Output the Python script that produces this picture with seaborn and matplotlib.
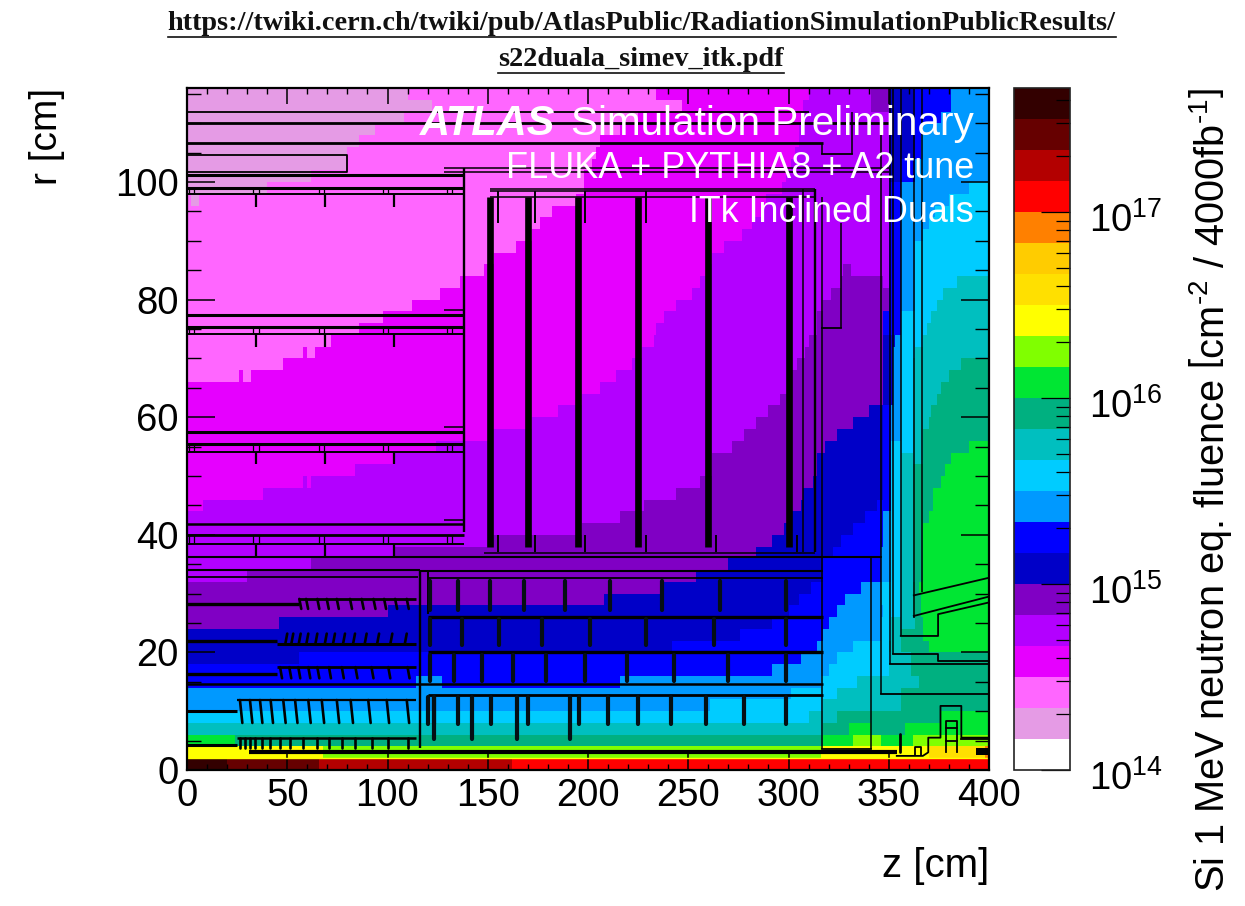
import numpy as np
import matplotlib
matplotlib.use("Agg")
import matplotlib.pyplot as plt
from matplotlib.colors import ListedColormap, LogNorm
from matplotlib.lines import Line2D
from matplotlib.transforms import ScaledTranslation
from matplotlib.ticker import LogLocator, LogFormatterMathtext, MultipleLocator, NullFormatter
import seaborn as sns

plt.rcParams['font.family'] = ['Liberation Sans', 'DejaVu Sans']
plt.rcParams['mathtext.fontset'] = 'custom'
plt.rcParams['mathtext.rm'] = 'Liberation Sans'
plt.rcParams['mathtext.it'] = 'Liberation Sans:italic'
plt.rcParams['mathtext.bf'] = 'Liberation Sans:bold'

# 22 fluence classes, one sixth of a decade each, starting at 1e14
level_colors = ['#FFFFFF', '#E59BE5', '#FF66FF', '#E600FF', '#B300FF', '#8000C4',
                '#0000C8', '#0000FF', '#0099FF', '#00CCFF', '#00BFBF', '#00B080',
                '#00E633', '#80FF00', '#FFFF00', '#FFE000', '#FFCC00', '#FF8000',
                '#FF0000', '#B30000', '#660000', '#330000']

# each row is one 2 cm band in r, top (114-116) to bottom (0-2): (z end, class)
level_runs = [
    [(110,1),(234,2),(310,3),(341,4),(350,5),(362,6),(381,7),(400,8)],
    [(122,1),(247,2),(307,3),(341,4),(350,5),(362,6),(381,7),(400,8)],
    [(108,1),(225,2),(307,3),(350,4),(362,6),(376,7),(400,8)],
    [(94,1),(216,2),(305,3),(350,4),(362,6),(367,7),(400,8)],
    [(86,1),(206,2),(305,3),(350,4),(363,6),(366,7),(400,8)],
    [(80,1),(204,2),(303,3),(350,4),(363,6),(366,7),(400,8)],
    [(80,1),(202,2),(301,3),(350,4),(356,6),(363,7),(400,8)],
    [(62,1),(198,2),(299,3),(350,4),(356,6),(363,7),(400,8)],
    [(40,1),(198,2),(297,3),(350,4),(356,7),(390,8),(400,9)],
    [(2,2),(6,1),(194,2),(289,3),(350,4),(356,7),(380,8),(400,9)],
    [(182,2),(287,3),(350,4),(356,7),(373,8),(400,9)],
    [(176,2),(282,3),(350,4),(356,7),(370,8),(400,9)],
    [(172,2),(277,3),(350,4),(356,7),(367,8),(400,9)],
    [(164,2),(268,3),(350,4),(356,7),(363,8),(400,9)],
    [(153,2),(262,3),(350,4),(356,7),(363,8),(400,9)],
    [(148,2),(259,3),(327,4),(331,5),(350,4),(356,7),(363,8),(400,9)],
    [(136,2),(256,3),(326,4),(347,5),(350,4),(356,7),(363,8),(384,9),(400,10)],
    [(126,2),(252,3),(321,4),(350,5),(356,7),(363,8),(377,9),(400,10)],
    [(112,2),(244,3),(317,4),(350,5),(356,7),(363,8),(374,9),(400,10)],
    [(98,2),(238,3),(314,4),(347,5),(356,7),(371,9),(400,10)],
    [(86,2),(234,3),(314,4),(347,5),(356,7),(369,9),(400,10)],
    [(72,2),(233,3),(310,4),(347,5),(353,6),(356,8),(367,9),(400,10)],
    [(58,2),(60,3),(64,2),(227,3),(308,4),(347,5),(352,6),(356,8),(363,9),(400,10)],
    [(48,2),(222,3),(304,4),(347,5),(352,6),(356,8),(362,9),(386,10),(400,11)],
    [(26,2),(28,3),(32,2),(214,3),(301,4),(347,5),(352,6),(356,8),(362,9),(380,10),(400,11)],
    [(206,3),(301,4),(347,5),(352,6),(356,8),(362,9),(376,10),(400,11)],
    [(197,3),(296,4),(347,5),(352,6),(356,8),(362,9),(374,10),(400,11)],
    [(185,3),(290,4),(340,5),(347,6),(351,7),(356,8),(362,9),(371,10),(400,11)],
    [(172,3),(284,4),(332,5),(347,6),(351,7),(356,8),(362,9),(370,10),(400,11)],
    [(150,3),(278,4),(324,5),(347,6),(351,7),(356,8),(362,9),(367,10),(400,11)],
    [(124,3),(272,4),(318,5),(347,6),(351,7),(362,9),(367,10),(390,11),(400,12)],
    [(103,3),(262,4),(314,5),(347,6),(351,7),(356,9),(367,10),(381,11),(400,12)],
    [(84,3),(262,4),(314,5),(347,6),(351,7),(356,9),(362,10),(378,11),(400,12)],
    [(58,3),(60,4),(62,3),(256,4),(312,5),(347,6),(351,7),(356,9),(362,10),(376,11),(400,12)],
    [(38,3),(244,4),(307,5),(347,6),(351,7),(356,9),(362,10),(372,11),(400,12)],
    [(8,3),(228,4),(306,5),(344,6),(351,7),(356,9),(362,10),(372,11),(400,12)],
    [(216,4),(301,5),(338,6),(347,7),(351,8),(356,9),(362,10),(370,11),(400,12)],
    [(197,4),(298,5),(332,6),(347,7),(351,8),(356,9),(362,10),(367,11),(400,12)],
    [(150,4),(292,5),(326,6),(347,7),(351,8),(356,9),(362,10),(367,11),(400,12)],
    [(103,4),(284,5),(322,6),(346,7),(351,8),(356,9),(362,10),(367,11),(400,12)],
    [(62,4),(270,5),(317,6),(346,7),(351,8),(356,9),(362,10),(367,11),(400,12)],
    [(30,4),(254,5),(317,6),(346,7),(351,8),(356,9),(363,10),(367,11),(400,12)],
    [(236,5),(311,6),(336,7),(346,8),(356,9),(362,10),(365,11),(400,12)],
    [(208,5),(305,6),(328,7),(346,8),(356,9),(362,10),(366,11),(400,12)],
    [(100,5),(300,6),(324,7),(347,8),(356,9),(362,10),(366,11),(400,12)],
    [(46,5),(292,6),(320,7),(346,8),(351,9),(363,10),(367,11),(400,12)],
    [(276,6),(317,7),(346,8),(351,9),(356,10),(367,11),(400,12)],
    [(242,6),(314,7),(332,8),(350,9),(356,10),(370,11),(400,12)],
    [(56,6),(306,7),(324,8),(351,9),(361,10),(400,11)],
    [(292,7),(320,8),(350,9),(361,10),(400,11)],
    [(114,7),(127,8),(216,7),(316,8),(334,9),(365,10),(400,11)],
    [(301,8),(324,9),(356,10),(400,11)],
    [(261,8),(317,9),(356,10),(400,11)],
    [(310,9),(324,10),(376,11),(400,12)],
    [(317,10),(330,11),(341,12),(358,11),(400,12)],
    [(24,12),(317,11),(332,12),(346,13),(362,12),(400,13)],
    [(68,14),(316,13),(370,14),(398,15),(400,17)],
    [(20,21),(66,20),(162,19),(400,18)],
]

# detector outline: horizontal lines (r, z start, z end, width)
outline_h = [
    (112, 0, 310, 1.3), (110, 0, 350, 2.0), (106.7, 0, 317, 2.0),
    (101.2, 0, 138, 2.2), (99, 0, 138, 2.2), (97.9, 0, 138, 1.4),
    (102.4, 128, 350, 1.1), (101.7, 128, 350, 1.1),
    (98.9, 151, 313, 1.1), (98.5, 151, 313, 1.1), (97.5, 151, 313, 1.1),
    (77.4, 0, 138, 2.2), (75.3, 0, 138, 2.2), (74.1, 0, 138, 1.4), (78.3, 128, 138, 1.1),
    (57.5, 0, 138, 2.2), (55.5, 0, 138, 2.2), (54.1, 0, 138, 1.4), (58.3, 128, 138, 1.1),
    (41.9, 0, 138, 1.8), (40, 0, 138, 2.0), (38.5, 0, 138, 1.4), (42.6, 128, 138, 1.1),
    (36.95, 148, 313, 1.1), (36.2, 0, 346, 1.5),
    (34.1, 0, 116, 1.5), (33.8, 116, 317, 1.5), (32.8, 0, 115, 1.3), (32.6, 120, 317, 1.3),
    (28.2, 0, 56, 2.4), (29.1, 56, 114, 2.0), (21.9, 0, 45, 2.4), (21.4, 45, 114, 2.2),
    (16.3, 0, 45, 2.4), (17.5, 45, 114, 2.0), (10, 0, 25, 2.2), (11.9, 25, 114, 1.6),
    (4.3, 0, 25, 2.2), (5.5, 25, 114, 1.8), (3, 31, 354, 3.0),
    (14.6, 0, 317, 1.8), (12.7, 120, 317, 2.0), (26, 120, 317, 2.4), (20, 120, 317, 2.4),
]
# vertical lines (z, r start, r end, width)
outline_v = [
    (138, 40.4, 102.4, 1.7), (116.2, 3.8, 34.1, 1.7), (120, 26.5, 33.8, 1.4),
    (307, 37, 98.9, 1.1), (313, 37, 98.9, 1.7), (316.5, 36.2, 97.5, 1.1),
    (316.5, 3.6, 36.2, 1.1), (341, 3.6, 36.2, 1.1),
    (346, 13, 110, 1.1), (350.6, 18.1, 116, 1.1), (352.3, 19.7, 116, 1.1),
    (356, 22.8, 116, 1.1), (362.5, 25.8, 116, 1.1), (366.6, 30.2, 116, 1.1),
    (326, 75.2, 93, 1.1), (316.5, 104.7, 106.7, 1.1), (331.5, 104.7, 112, 1.1),
]
# further polylines (z list, r list)
outline_paths = [
    ([316.5, 341], [3.6, 3.6]),
    ([316.5, 346], [36.2, 36.2]),
    ([346, 400], [13, 13]),
    ([350.6, 400], [18.1, 18.1]),
    ([352.3, 374.6, 374.6, 400], [19.7, 19.7, 18.6, 18.6]),
    ([356, 374.6, 374.6, 400], [22.8, 22.8, 26.5, 28.5]),
    ([362.5, 400], [26.2, 29.5]),
    ([362.5, 400], [29.7, 32.7]),
    ([316.5, 331.5], [104.7, 104.7]),
    ([316.5, 326], [75.2, 75.2]),
    ([0, 80, 80, 0], [104.6, 104.6, 101.7, 101.7]),
    ([354, 367, 369.7, 369.7, 375.8, 375.8, 386.2, 386.2, 400],
     [2.4, 2.4, 3, 5.5, 5.5, 10.9, 10.9, 5.5, 5.5]),
    ([378.4, 378.4, 384.1, 384.1], [3, 8.4, 8.4, 3]),
    ([378.4, 384.1], [7.2, 7.2]),
    ([378.4, 384.1], [4.9, 4.9]),
    ([363.3, 363.3, 366.3, 366.3], [2.6, 3.9, 3.9, 2.6]),
    ([386.2, 400], [5.3, 5.3]),
]
# solid disks (z), r 38 to 97.5
disk_z = [151, 170, 195, 225, 260, 300]
# thin posts of the outer disks (z, r start, r end)
disk_posts = [(155, 93, 98.5), (173.6, 93, 98.5), (198.5, 93, 98.5), (229, 93, 98.5),
              (155, 37, 40), (173.6, 37, 40), (198.5, 37, 40), (229, 37, 40),
              (264, 37, 40), (304, 37, 40)]
# stave clips on the flat outer barrels: (base r, lowest r of drop, top r of pair)
clip_z = [34.4, 68.8, 103.2]
clip_pair_z = [2.3, 34.4, 67, 99, 131]
clip_rows = [(97.9, 95.7, 99), (74.1, 72, 75.3), (54.1, 52, 55.5), (38.5, 36.2, 40)]
# inner barrel teeth: r range and z of each tooth
teeth_a_z = [56, 59.4, 65, 69.7, 74.7, 81.3, 87.1, 93, 98.3, 103.8, 109.6]
teeth_b_z = [50, 53, 56.7, 60.5, 65, 69.7, 73.8, 78.8, 83.8, 89.6, 95.8, 102.4, 109.6]
teeth_c_z = [46.4, 51, 55.5, 60.5, 65, 70.8, 77.2, 84, 92, 100.4, 110]
teeth_d_z = [26.4, 31.4, 36.4, 41.7, 48, 53.9, 60.5, 67.2, 74.7, 81.6, 90.4, 99.6, 109.6]
teeth_e_z = [26.4, 28.9, 31.4, 33.9, 37.3, 41.4, 46.4, 51.4, 58, 64.7, 70.8, 77.5, 84, 92.1, 100.4, 110]
# inclined modules of the outer pixel layers
pills_1_z = [121, 135, 151, 168, 188.5, 211, 237, 266, 299]
pills_2_z = [121, 137, 155.5, 177, 201, 229, 263, 299]
pills_3_z = [121, 133, 147, 162.5, 179, 198.5, 219.5, 243, 270, 299]
pills_4_z = [120.4, 123.2, 135.3, 151.5, 170, 195.7, 210, 225, 241.3, 259, 278, 299]
pills_4_long_z = [123.2, 142, 164.7, 191]

n_rows = len(level_runs)
levels = np.zeros((n_rows, 400), dtype=int)
for i, runs in enumerate(level_runs):
    start = 0
    for end, lev in runs:
        levels[i, start:end] = lev
        start = end
fluence = 10.0 ** (14 + (levels + 0.5) / 6.0)

W, H = 1245, 906
fig = plt.figure(figsize=(W / 100, H / 100), dpi=100, facecolor='white')
L, R, T, B = 187, 989, 88, 770
rect = [L / W, 1 - B / H, (R - L) / W, (B - T) / H]
ax = fig.add_axes(rect)
cax = fig.add_axes([1014 / W, 1 - 770 / H, 56 / W, 682 / H])
cmap = ListedColormap(level_colors)
norm = LogNorm(1e14, 10 ** (14 + 22 / 6.0))
sns.heatmap(fluence, ax=ax, cmap=cmap, norm=norm, cbar=True, cbar_ax=cax,
            xticklabels=False, yticklabels=False)
ax.set_xticks([]); ax.set_yticks([])
cb = ax.collections[0].colorbar
cb.outline.set_linewidth(1.2)
cb.outline.set_edgecolor('#222222')
cax.yaxis.set_major_locator(LogLocator(base=10, numticks=8))
cax.yaxis.set_major_formatter(LogFormatterMathtext())
cax.yaxis.set_minor_locator(LogLocator(base=10, subs=np.arange(2, 10), numticks=8))
cax.yaxis.set_minor_formatter(NullFormatter())
cax.tick_params(axis='y', which='major', direction='in', length=21, width=0.9, right=True,
                labelsize=27.5, pad=14, color='black')
cax.tick_params(axis='y', which='minor', direction='in', length=10, width=0.9, right=True)
fig.canvas.draw()
for lab in cax.get_yticklabels():
    lab.set_transform(lab.get_transform() + ScaledTranslation(0, -5 / 100, fig.dpi_scale_trans))

ov = fig.add_axes(rect, facecolor='none')
ov.set_xlim(0, 400); ov.set_ylim(0, 116)
for s in ov.spines.values():
    s.set_linewidth(1.6)
ov.xaxis.set_major_locator(MultipleLocator(50))
ov.xaxis.set_minor_locator(MultipleLocator(10))
ov.yaxis.set_major_locator(MultipleLocator(20))
ov.yaxis.set_minor_locator(MultipleLocator(5))
ov.tick_params(axis='x', which='major', direction='in', length=11.3, width=1.1, top=True,
               labelsize=27.5, pad=6)
ov.tick_params(axis='x', which='minor', direction='in', length=4.5, width=1.0, top=True)
ov.tick_params(axis='y', which='major', direction='in', length=20, width=1.1, right=True,
               labelsize=27.5, pad=6)
ov.tick_params(axis='y', which='minor', direction='in', length=10, width=1.0, right=True)

for r, z0, z1, lw in outline_h:
    ov.plot([z0, z1], [r, r], color='black', lw=lw, solid_capstyle='butt')
for z, r0, r1, lw in outline_v:
    ov.plot([z, z], [r0, r1], color='black', lw=lw, solid_capstyle='butt')
for zs, rs in outline_paths:
    ov.plot(zs, rs, color='black', lw=1.3, solid_joinstyle='round')
for z in disk_z:
    ov.plot([z, z], [38, 97.5], color='black', lw=4.8, solid_capstyle='butt')
for z, r0, r1 in disk_posts:
    ov.plot([z, z], [r0, r1], color='black', lw=1.4, solid_capstyle='butt')
for r_low, r_drop, r_up in clip_rows:
    for z in clip_z:
        ov.plot([z, z], [r_drop, r_low], color='black', lw=1.6, solid_capstyle='butt')
    for z in clip_pair_z:
        for dz in (-1.3, 1.3):
            ov.plot([z + dz, z + dz], [r_low, r_up], color='black', lw=0.9, solid_capstyle='butt')
for zs, top, bot, tilt in [(teeth_a_z, 29.1, 27.4, 1.0), (teeth_b_z, 23.2, 21.4, -1.0),
                           (teeth_c_z, 17.5, 15.6, 1.0), (teeth_d_z, 11.9, 8.0, 1.2),
                           (teeth_e_z, 5.5, 3.7, 0.0)]:
    for z in zs:
        ov.plot([z, z + tilt], [top, bot], color='black', lw=1.9, solid_capstyle='round')
for zs, r0, r1 in [(pills_1_z, 27.2, 32.2), (pills_2_z, 21.2, 25.6),
                   (pills_3_z, 15.2, 19.5), (pills_4_z, 7.8, 12.4), (pills_4_long_z, 5.2, 12.4)]:
    for z in zs:
        ov.plot([z, z], [r0, r1], color='#050f14', lw=3.0, solid_capstyle='round')
ov.plot([355.5, 355.5], [3, 6.2], color='black', lw=2.0, solid_capstyle='round')
ov.fill_between([393.6, 400], [2.6, 2.6], [3.7, 3.7], color='black', lw=0)
ov.plot([0, 400], [2.1, 2.1], color='#FFFF00', lw=1.0, solid_capstyle='butt')

ov.set_xlabel('z [cm]', fontsize=29, loc='right')
ov.xaxis.set_label_coords(1.0, -0.113)
ov.set_ylabel('r [cm]', fontsize=28, loc='top')
ov.yaxis.set_label_coords(-0.152, 1.0)
cax.yaxis.set_label_position('right')
cax.set_ylabel('Si 1 MeV neutron eq. fluence $\\left[\\mathrm{cm^{\u20102}\\ /\\ 4000fb^{\u20101}}\\right]$',
               fontsize=28.6, loc='top', rotation=90, labelpad=0)
cax.yaxis.set_label_coords(3.09, 1.0)

def fx(x):
    return x / W
def fy(y):
    return 1 - y / H

fig.text(fx(974), fy(124), 'Simulation Preliminary', color='white', fontsize=29.2, ha='right', va='center')
fig.text(fx(555), fy(124), 'ATLAS', color='white', fontsize=30, ha='right', va='center',
         fontweight='bold', fontstyle='italic')
fig.text(fx(974), fy(169), 'FLUKA + PYTHIA8 + A2 tune', color='white', fontsize=25.9, ha='right', va='center')
fig.text(fx(974), fy(213), 'ITk Inclined Duals', color='white', fontsize=25.8, ha='right', va='center')

t1 = fig.text(fx(641.5), fy(24), 'https://twiki.cern.ch/twiki/pub/AtlasPublic/RadiationSimulationPublicResults/',
              family='Liberation Serif', fontweight='bold', fontsize=20.3, ha='center', va='center', color='#111111')
t2 = fig.text(fx(641), fy(60), 's22duala_simev_itk.pdf',
              family='Liberation Serif', fontweight='bold', fontsize=20.3, ha='center', va='center', color='#111111')
fig.canvas.draw()
rend = fig.canvas.get_renderer()
for t, yy in [(t1, 37), (t2, 72.5)]:
    bb = t.get_window_extent(rend)
    fig.add_artist(Line2D([bb.x0 / W, bb.x1 / W], [fy(yy), fy(yy)], color='#111111', lw=1.2))

fig.savefig('out.png', dpi=100, facecolor='white')
